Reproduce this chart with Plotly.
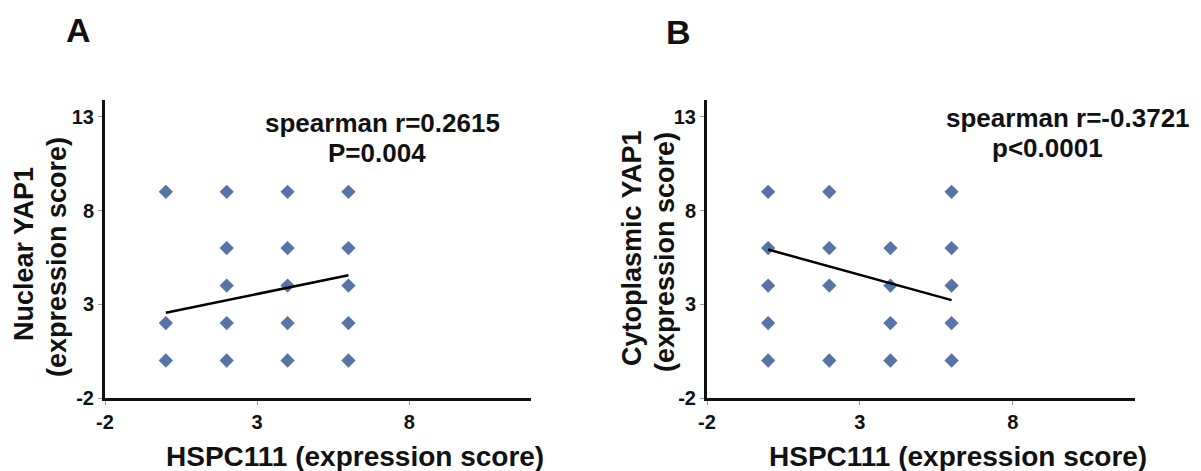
import plotly.graph_objects as go

W, H = 1201, 471

# ---- data ----
a_x = [0, 2, 4, 6, 2, 4, 6, 2, 4, 6, 0, 2, 4, 6, 0, 2, 4, 6]
a_y = [9, 9, 9, 9, 6, 6, 6, 4, 4, 4, 2, 2, 2, 2, 0, 0, 0, 0]
a_fit_x = [0, 6]
a_fit_y = [2.55, 4.55]

b_x = [0, 2, 6, 0, 2, 4, 6, 0, 2, 4, 6, 0, 4, 6, 0, 2, 4, 6]
b_y = [9, 9, 9, 6, 6, 6, 6, 4, 4, 4, 4, 2, 2, 2, 0, 0, 0, 0]
b_fit_x = [0, 6]
b_fit_y = [5.92, 3.22]

x_ticks = [-2, 3, 8]
x_tick_labels = ["-2", "3", "8"]
y_ticks = [-2, 3, 8, 13]
y_tick_labels = ["-2", "3", "8", "13"]
x_range = [-2, 12]
y_range = [-2, 13.9]

a_stats = ["spearman r=0.2615", "P=0.004"]
b_stats = ["spearman r=-0.3721", "p<0.0001"]
x_title = "HSPC111 (expression score)"
a_ytitle = ["Nuclear YAP1", "(expression score)"]
b_ytitle = ["Cytoplasmic YAP1", "(expression score)"]

MARK = "#5873A7"
FONT = "Liberation Sans, Arial, sans-serif"
NARROW = "Liberation Sans Narrow, Arial Narrow, Liberation Sans, sans-serif"

def px(x):
    return x / W

def py(y):
    return 1 - y / H

fig = go.Figure()
for xs, ys, fx, fy, xa, ya in [
    (a_x, a_y, a_fit_x, a_fit_y, "x", "y"),
    (b_x, b_y, b_fit_x, b_fit_y, "x2", "y2"),
]:
    fig.add_trace(go.Scatter(x=xs, y=ys, mode="markers", xaxis=xa, yaxis=ya,
                             marker=dict(symbol="diamond", size=11, color=MARK),
                             showlegend=False, hoverinfo="x+y"))
    fig.add_trace(go.Scatter(x=fx, y=fy, mode="lines", xaxis=xa, yaxis=ya,
                             line=dict(color="black", width=2.5),
                             showlegend=False))

ydom = [py(398), py(100)]
axis_common = dict(showline=True, linecolor="#111111", linewidth=3,
                   showgrid=False, zeroline=False, ticks="outside",
                   ticklen=4, tickwidth=1, tickcolor="#999999",
                   automargin=False,
                   tickfont=dict(family=NARROW, size=20, color="#111111",
                                 weight="bold"))
xaxis_ticks = dict(range=x_range, tickvals=x_ticks, ticktext=x_tick_labels)
yaxis_ticks = dict(range=y_range, tickvals=y_ticks, ticktext=y_tick_labels)

fig.update_layout(
    width=W, height=H,
    margin=dict(l=0, r=0, t=0, b=0, autoexpand=False),
    paper_bgcolor="white", plot_bgcolor="white",
    xaxis=dict(domain=[px(105), px(531)], anchor="y", **xaxis_ticks, **axis_common),
    yaxis=dict(domain=ydom, anchor="x", **yaxis_ticks, **axis_common),
    xaxis2=dict(domain=[px(707), px(1135)], anchor="y2", **xaxis_ticks, **axis_common),
    yaxis2=dict(domain=ydom, anchor="x2", **yaxis_ticks, **axis_common),
)

def ann(text, x, y, size, angle=0, family=FONT):
    fig.add_annotation(text=text, x=px(x), y=py(y), xref="paper", yref="paper",
                       xanchor="center", yanchor="middle", showarrow=False,
                       textangle=angle, borderpad=0,
                       font=dict(family=family, size=size, color="#111111",
                                 weight="bold"))

# panel letters
ann("A", 78, 30, 34)
ann("B", 678, 32, 34)

# statistics
ann(a_stats[0], 382, 123, 26)
ann(a_stats[1], 377, 153, 26)
ann(b_stats[0], 1068, 118, 26)
ann(b_stats[1], 1047, 148, 26)

# x titles
ann(x_title, 355, 456, 28)
ann(x_title, 958, 456, 28)

# y titles
ann(a_ytitle[0], 24, 254, 27, angle=-90)
ann(a_ytitle[1], 57, 257, 27, angle=-90)
ann(b_ytitle[0], 632, 248, 27, angle=-90)
ann(b_ytitle[1], 665, 252, 27, angle=-90)

fig.write_html("out.html",
               config={"displayModeBar": False},
               post_script="document.body.style.margin='0';"
                           "document.body.style.overflow='hidden';")
